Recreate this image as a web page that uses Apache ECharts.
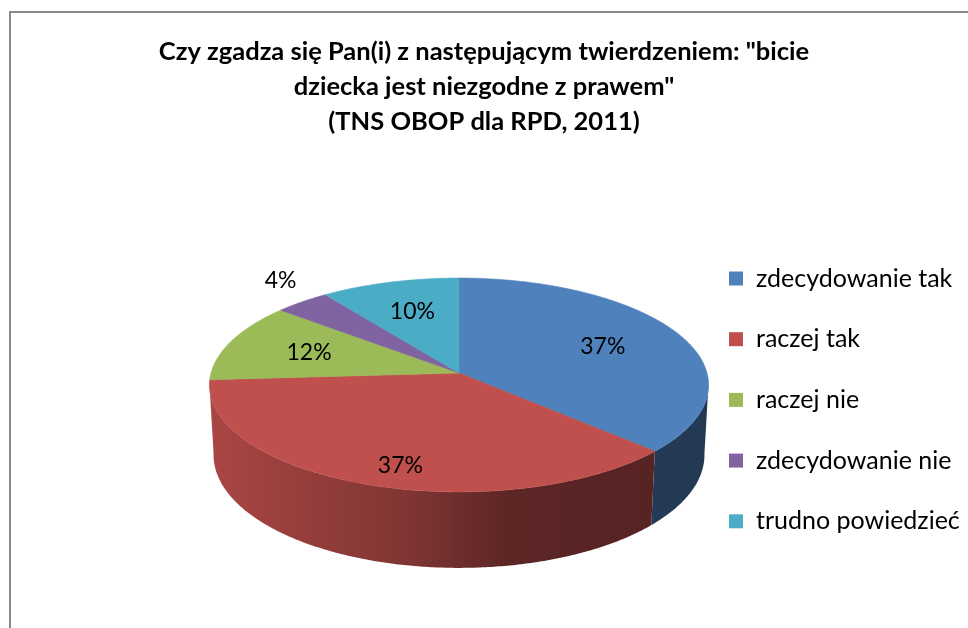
<!DOCTYPE html>
<html>
<head>
<meta charset="utf-8">
<script src="https://cdn.jsdelivr.net/npm/echarts@6/dist/echarts.min.js"></script>
<style>
  html, body { margin: 0; background: #fff; }
  #chart { width: 968px; height: 628px; }
</style>
</head>
<body>
<div id="chart"></div>
<script>
const categories = ['zdecydowanie tak', 'raczej tak', 'raczej nie', 'zdecydowanie nie', 'trudno powiedzieć'];
const values = [37, 37, 12, 4, 10];
const colors = ['#4F81BD', '#C0504D', '#9BBB59', '#8064A2', '#4BACC6'];

const total = values.reduce((a, b) => a + b, 0);
const starts = [];
let acc = 0;
values.forEach((v) => { starts.push(acc); acc += v; });

// simple perspective view of a tilted disc (Excel-like 3D pie)
const view = { cx: 459, cy: 373, r: 248, tilt: 25.2 * Math.PI / 180, dist: 8.07, depth: 0.315 };

function project(theta, rad, h) {
  const X = rad * Math.sin(theta), Z = rad * Math.cos(theta);
  const sa = Math.sin(view.tilt), ca = Math.cos(view.tilt);
  const v = Z * sa + h * ca, w = Z * ca - h * sa;
  const k = 1 + w / view.dist;
  return [view.cx + view.r * X / k, view.cy - view.r * v / k];
}

function arc(a1, a2, h) {
  const n = Math.max(2, Math.ceil(Math.abs(a2 - a1) / 0.01));
  const pts = [];
  for (let j = 0; j <= n; j++) pts.push(project(a1 + (a2 - a1) * j / n, 1, h));
  return pts;
}

function shade(hex, f) {
  const c = echarts.color.parse(hex);
  return 'rgb(' + Math.round(c[0] * f) + ',' + Math.round(c[1] * f) + ',' + Math.round(c[2] * f) + ')';
}

function renderSlice(params, api) {
  const i = params.seriesIndex;
  const a1 = starts[i] / total * 2 * Math.PI;
  const a2 = (starts[i] + values[i]) / total * 2 * Math.PI;
  const color = colors[i];
  const children = [];

  // outer side wall, only the front part shows (silhouette a bit past 90/270 deg)
  const lo = Math.max(a1, Math.PI / 2 + 0.1), hi = Math.min(a2, 3 * Math.PI / 2 - 0.1);
  if (hi > lo) {
    children.push({
      type: 'polygon', z2: 1,
      shape: { points: arc(lo, hi, 0).concat(arc(hi, lo, -view.depth)) },
      style: {
        fill: {
          type: 'linear', global: true,
          x: view.cx - view.r, y: 0, x2: view.cx + view.r, y2: 0,
          colorStops: [
            { offset: 0, color: shade(color, 0.88) },
            { offset: 0.4, color: shade(color, 0.66) },
            { offset: 0.6, color: shade(color, 0.48) },
            { offset: 1, color: shade(color, 0.44) }
          ]
        }
      }
    });
  }

  // top face
  children.push({
    type: 'polygon', z2: 2,
    shape: { points: [project(0, 0, 0)].concat(arc(a1, a2, 0)) },
    style: { fill: color, stroke: color, lineWidth: 0.6 }
  });

  // data label
  const mid = (a1 + a2) / 2;
  const share = values[i] / total;
  const outside = share < 0.05;
  const p = project(mid, outside ? 1.15 : 0.65, 0);
  const dy = outside ? 0 : Math.max(0, -Math.cos(mid)) * 25;
  children.push({
    type: 'text', z2: 3,
    x: p[0], y: p[1] + dy,
    style: {
      text: Math.round(share * 100) + '%',
      fill: '#000',
      font: '23px Lato',
      align: 'center',
      verticalAlign: outside ? 'bottom' : 'middle'
    }
  });

  return { type: 'group', children };
}

const chart = echarts.init(document.getElementById('chart'));

chart.setOption({
  animation: false,
  title: {
    text: 'Czy zgadza się Pan(i) z następującym twierdzeniem: "bicie\ndziecka jest niezgodne z prawem"\n(TNS OBOP dla RPD, 2011)',
    left: 'center',
    top: 29,
    padding: [5, 0, 5, 4],
    textStyle: { fontFamily: 'Lato', fontSize: 25.5, fontWeight: 'bold', color: '#000', lineHeight: 35 }
  },
  legend: {
    orient: 'vertical',
    left: 729,
    top: 266,
    padding: 0,
    icon: 'rect',
    itemWidth: 14,
    itemHeight: 14,
    itemGap: 35.7,
    data: categories,
    textStyle: { fontFamily: 'Lato', fontSize: 25, color: '#000', lineHeight: 25, padding: [0, 0, 0, 8] }
  },
  graphic: [{
    type: 'rect',
    shape: { x: 10, y: 12, width: 990, height: 660 },
    style: { fill: 'none', stroke: '#8a8a8a', lineWidth: 2 },
    silent: true
  }],
  series: categories.map((name, i) => ({
    type: 'custom',
    name: name,
    coordinateSystem: 'none',
    itemStyle: { color: colors[i] },
    data: [[values[i]]],
    renderItem: renderSlice
  }))
});
</script>
</body>
</html>
